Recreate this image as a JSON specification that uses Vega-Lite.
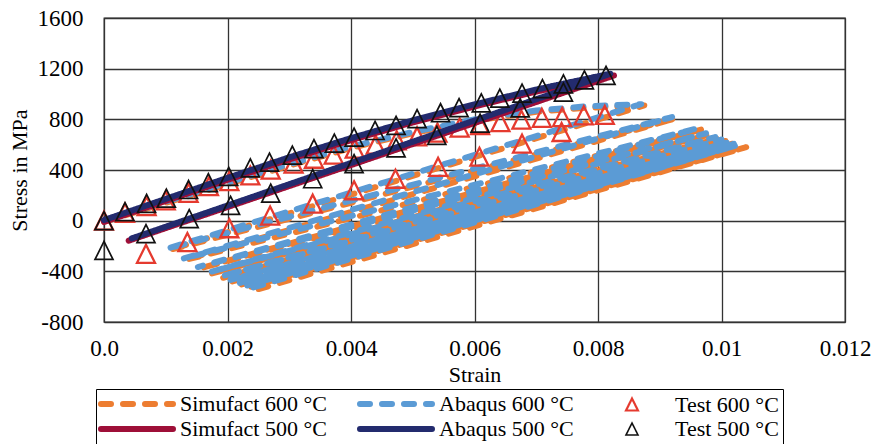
{
  "$schema": "https://vega.github.io/schema/vega-lite/v6.json",
  "width": 741,
  "height": 304,
  "autosize": "none",
  "padding": {"left": 104, "top": 18, "right": 27, "bottom": 122},
  "background": "white",
  "config": {
    "view": {"stroke": "#333", "strokeWidth": 1.3},
    "font": "Liberation Serif, Times New Roman, DejaVu Serif, serif",
    "axis": {
      "labelFont": "Liberation Serif, Times New Roman, DejaVu Serif, serif", "titleFont": "Liberation Serif, Times New Roman, DejaVu Serif, serif",
      "labelFontSize": 23, "titleFontSize": 22, "titleFontWeight": "normal",
      "labelColor": "#000", "titleColor": "#000",
      "gridColor": "#333", "gridWidth": 1.3, "gridOpacity": 1,
      "ticks": false, "domain": false
    }
  },
  "datasets": {
    "sf600": [
      {"series": "Simufact 600 °C", "i": 0, "strain": 0, "stress": -8},
      {"series": "Simufact 600 °C", "i": 1, "strain": 0.001, "stress": 140},
      {"series": "Simufact 600 °C", "i": 2, "strain": 0.002, "stress": 289},
      {"series": "Simufact 600 °C", "i": 3, "strain": 0.003, "stress": 434},
      {"series": "Simufact 600 °C", "i": 4, "strain": 0.004, "stress": 574},
      {"series": "Simufact 600 °C", "i": 5, "strain": 0.005, "stress": 690},
      {"series": "Simufact 600 °C", "i": 6, "strain": 0.006, "stress": 789},
      {"series": "Simufact 600 °C", "i": 7, "strain": 0.007, "stress": 859},
      {"series": "Simufact 600 °C", "i": 8, "strain": 0.0078, "stress": 891},
      {"series": "Simufact 600 °C", "i": 9, "strain": 0.00875, "stress": 910},
      {"series": "Simufact 600 °C", "i": 10, "strain": 0.00105, "stress": -232},
      {"series": "Simufact 600 °C", "i": 11, "strain": 0.00925, "stress": 807},
      {"series": "Simufact 600 °C", "i": 12, "strain": 0.00131, "stress": -311},
      {"series": "Simufact 600 °C", "i": 13, "strain": 0.00967, "stress": 719},
      {"series": "Simufact 600 °C", "i": 14, "strain": 0.00155, "stress": -377},
      {"series": "Simufact 600 °C", "i": 15, "strain": 0.0098, "stress": 680},
      {"series": "Simufact 600 °C", "i": 16, "strain": 0.00175, "stress": -416},
      {"series": "Simufact 600 °C", "i": 17, "strain": 0.00996, "stress": 650},
      {"series": "Simufact 600 °C", "i": 18, "strain": 0.00193, "stress": -451},
      {"series": "Simufact 600 °C", "i": 19, "strain": 0.01007, "stress": 630},
      {"series": "Simufact 600 °C", "i": 20, "strain": 0.00208, "stress": -479},
      {"series": "Simufact 600 °C", "i": 21, "strain": 0.0102, "stress": 610},
      {"series": "Simufact 600 °C", "i": 22, "strain": 0.00223, "stress": -503},
      {"series": "Simufact 600 °C", "i": 23, "strain": 0.0103, "stress": 595},
      {"series": "Simufact 600 °C", "i": 24, "strain": 0.00236, "stress": -524},
      {"series": "Simufact 600 °C", "i": 25, "strain": 0.0104, "stress": 580},
      {"series": "Simufact 600 °C", "i": 26, "strain": 0.00246, "stress": -546}
    ],
    "ab600": [
      {"series": "Abaqus 600 °C", "i": 0, "strain": 0, "stress": 0},
      {"series": "Abaqus 600 °C", "i": 1, "strain": 0.001, "stress": 150},
      {"series": "Abaqus 600 °C", "i": 2, "strain": 0.002, "stress": 300},
      {"series": "Abaqus 600 °C", "i": 3, "strain": 0.003, "stress": 445},
      {"series": "Abaqus 600 °C", "i": 4, "strain": 0.004, "stress": 585},
      {"series": "Abaqus 600 °C", "i": 5, "strain": 0.005, "stress": 700},
      {"series": "Abaqus 600 °C", "i": 6, "strain": 0.006, "stress": 800},
      {"series": "Abaqus 600 °C", "i": 7, "strain": 0.007, "stress": 870},
      {"series": "Abaqus 600 °C", "i": 8, "strain": 0.0078, "stress": 902},
      {"series": "Abaqus 600 °C", "i": 9, "strain": 0.0087, "stress": 920},
      {"series": "Abaqus 600 °C", "i": 10, "strain": 0.00102, "stress": -221},
      {"series": "Abaqus 600 °C", "i": 11, "strain": 0.0092, "stress": 818},
      {"series": "Abaqus 600 °C", "i": 12, "strain": 0.00128, "stress": -300},
      {"series": "Abaqus 600 °C", "i": 13, "strain": 0.00962, "stress": 730},
      {"series": "Abaqus 600 °C", "i": 14, "strain": 0.00152, "stress": -366},
      {"series": "Abaqus 600 °C", "i": 15, "strain": 0.00975, "stress": 690},
      {"series": "Abaqus 600 °C", "i": 16, "strain": 0.00172, "stress": -405},
      {"series": "Abaqus 600 °C", "i": 17, "strain": 0.0099, "stress": 660},
      {"series": "Abaqus 600 °C", "i": 18, "strain": 0.0019, "stress": -440},
      {"series": "Abaqus 600 °C", "i": 19, "strain": 0.01, "stress": 640},
      {"series": "Abaqus 600 °C", "i": 20, "strain": 0.00205, "stress": -468},
      {"series": "Abaqus 600 °C", "i": 21, "strain": 0.01012, "stress": 620},
      {"series": "Abaqus 600 °C", "i": 22, "strain": 0.0022, "stress": -492},
      {"series": "Abaqus 600 °C", "i": 23, "strain": 0.0102, "stress": 606},
      {"series": "Abaqus 600 °C", "i": 24, "strain": 0.00232, "stress": -512},
      {"series": "Abaqus 600 °C", "i": 25, "strain": 0.01025, "stress": 595},
      {"series": "Abaqus 600 °C", "i": 26, "strain": 0.0024, "stress": -530}
    ],
    "sf500": [
      {"series": "Simufact 500 °C", "i": 0, "strain": 0, "stress": -10},
      {"series": "Simufact 500 °C", "i": 1, "strain": 0.001, "stress": 156},
      {"series": "Simufact 500 °C", "i": 2, "strain": 0.002, "stress": 322},
      {"series": "Simufact 500 °C", "i": 3, "strain": 0.003, "stress": 484},
      {"series": "Simufact 500 °C", "i": 4, "strain": 0.004, "stress": 636},
      {"series": "Simufact 500 °C", "i": 5, "strain": 0.005, "stress": 776},
      {"series": "Simufact 500 °C", "i": 6, "strain": 0.006, "stress": 902},
      {"series": "Simufact 500 °C", "i": 7, "strain": 0.007, "stress": 1019},
      {"series": "Simufact 500 °C", "i": 8, "strain": 0.00826, "stress": 1146},
      {"series": "Simufact 500 °C", "i": 9, "strain": 0.0004, "stress": -158}
    ],
    "ab500": [
      {"series": "Abaqus 500 °C", "i": 0, "strain": 0, "stress": 5},
      {"series": "Abaqus 500 °C", "i": 1, "strain": 0.001, "stress": 172},
      {"series": "Abaqus 500 °C", "i": 2, "strain": 0.002, "stress": 338},
      {"series": "Abaqus 500 °C", "i": 3, "strain": 0.003, "stress": 500},
      {"series": "Abaqus 500 °C", "i": 4, "strain": 0.004, "stress": 652},
      {"series": "Abaqus 500 °C", "i": 5, "strain": 0.005, "stress": 792},
      {"series": "Abaqus 500 °C", "i": 6, "strain": 0.006, "stress": 918},
      {"series": "Abaqus 500 °C", "i": 7, "strain": 0.007, "stress": 1035},
      {"series": "Abaqus 500 °C", "i": 8, "strain": 0.0082, "stress": 1160},
      {"series": "Abaqus 500 °C", "i": 9, "strain": 0.00045, "stress": -140}
    ],
    "t600": [
      {"series": "Test 600 °C", "strain": 0, "stress": 0},
      {"series": "Test 600 °C", "strain": 0.00034, "stress": 62},
      {"series": "Test 600 °C", "strain": 0.00069, "stress": 115},
      {"series": "Test 600 °C", "strain": 0.001, "stress": 160},
      {"series": "Test 600 °C", "strain": 0.00137, "stress": 220},
      {"series": "Test 600 °C", "strain": 0.0017, "stress": 272},
      {"series": "Test 600 °C", "strain": 0.00203, "stress": 312},
      {"series": "Test 600 °C", "strain": 0.00237, "stress": 357},
      {"series": "Test 600 °C", "strain": 0.0027, "stress": 403},
      {"series": "Test 600 °C", "strain": 0.00307, "stress": 450},
      {"series": "Test 600 °C", "strain": 0.0034, "stress": 489},
      {"series": "Test 600 °C", "strain": 0.00372, "stress": 522},
      {"series": "Test 600 °C", "strain": 0.00406, "stress": 568},
      {"series": "Test 600 °C", "strain": 0.0044, "stress": 600},
      {"series": "Test 600 °C", "strain": 0.00474, "stress": 635},
      {"series": "Test 600 °C", "strain": 0.00507, "stress": 665},
      {"series": "Test 600 °C", "strain": 0.0054, "stress": 695},
      {"series": "Test 600 °C", "strain": 0.00576, "stress": 735},
      {"series": "Test 600 °C", "strain": 0.00609, "stress": 755},
      {"series": "Test 600 °C", "strain": 0.00642, "stress": 778},
      {"series": "Test 600 °C", "strain": 0.00676, "stress": 797},
      {"series": "Test 600 °C", "strain": 0.00709, "stress": 812},
      {"series": "Test 600 °C", "strain": 0.00742, "stress": 818},
      {"series": "Test 600 °C", "strain": 0.00777, "stress": 832},
      {"series": "Test 600 °C", "strain": 0.00811, "stress": 835},
      {"series": "Test 600 °C", "strain": 0.00068, "stress": -262},
      {"series": "Test 600 °C", "strain": 0.00135, "stress": -169},
      {"series": "Test 600 °C", "strain": 0.00203, "stress": -60},
      {"series": "Test 600 °C", "strain": 0.00269, "stress": 40},
      {"series": "Test 600 °C", "strain": 0.00338, "stress": 134},
      {"series": "Test 600 °C", "strain": 0.00405, "stress": 240},
      {"series": "Test 600 °C", "strain": 0.00472, "stress": 331},
      {"series": "Test 600 °C", "strain": 0.00541, "stress": 425},
      {"series": "Test 600 °C", "strain": 0.00608, "stress": 505},
      {"series": "Test 600 °C", "strain": 0.00677, "stress": 608},
      {"series": "Test 600 °C", "strain": 0.00741, "stress": 700}
    ],
    "t500": [
      {"series": "Test 500 °C", "strain": 0, "stress": 0},
      {"series": "Test 500 °C", "strain": 0.00034, "stress": 72},
      {"series": "Test 500 °C", "strain": 0.00069, "stress": 136},
      {"series": "Test 500 °C", "strain": 0.00101, "stress": 178},
      {"series": "Test 500 °C", "strain": 0.00137, "stress": 246},
      {"series": "Test 500 °C", "strain": 0.00169, "stress": 301},
      {"series": "Test 500 °C", "strain": 0.00202, "stress": 350},
      {"series": "Test 500 °C", "strain": 0.00237, "stress": 416},
      {"series": "Test 500 °C", "strain": 0.00268, "stress": 462},
      {"series": "Test 500 °C", "strain": 0.00305, "stress": 518},
      {"series": "Test 500 °C", "strain": 0.0034, "stress": 568},
      {"series": "Test 500 °C", "strain": 0.00373, "stress": 612},
      {"series": "Test 500 °C", "strain": 0.00405, "stress": 660},
      {"series": "Test 500 °C", "strain": 0.00439, "stress": 712},
      {"series": "Test 500 °C", "strain": 0.00473, "stress": 752},
      {"series": "Test 500 °C", "strain": 0.00507, "stress": 805},
      {"series": "Test 500 °C", "strain": 0.00545, "stress": 852},
      {"series": "Test 500 °C", "strain": 0.00575, "stress": 892},
      {"series": "Test 500 °C", "strain": 0.00611, "stress": 930},
      {"series": "Test 500 °C", "strain": 0.00641, "stress": 968},
      {"series": "Test 500 °C", "strain": 0.00677, "stress": 1007},
      {"series": "Test 500 °C", "strain": 0.0071, "stress": 1042},
      {"series": "Test 500 °C", "strain": 0.00744, "stress": 1080},
      {"series": "Test 500 °C", "strain": 0.00778, "stress": 1112},
      {"series": "Test 500 °C", "strain": 0.00813, "stress": 1147},
      {"series": "Test 500 °C", "strain": 0, "stress": -235},
      {"series": "Test 500 °C", "strain": 0.00068, "stress": -103},
      {"series": "Test 500 °C", "strain": 0.00138, "stress": 16},
      {"series": "Test 500 °C", "strain": 0.00205, "stress": 121},
      {"series": "Test 500 °C", "strain": 0.0027, "stress": 218},
      {"series": "Test 500 °C", "strain": 0.00338, "stress": 331},
      {"series": "Test 500 °C", "strain": 0.00405, "stress": 450},
      {"series": "Test 500 °C", "strain": 0.00473, "stress": 575},
      {"series": "Test 500 °C", "strain": 0.00539, "stress": 673},
      {"series": "Test 500 °C", "strain": 0.00609, "stress": 770},
      {"series": "Test 500 °C", "strain": 0.00674, "stress": 890},
      {"series": "Test 500 °C", "strain": 0.00744, "stress": 1015}
    ]
  },
  "encoding": {
    "x": {
      "field": "strain", "type": "quantitative",
      "scale": {"domain": [0, 0.012], "nice": false, "zero": false},
      "axis": {
        "values": [0, 0.002, 0.004, 0.006, 0.008, 0.01, 0.012],
        "labelExpr": "datum.value == 0 ? '0.0' : format(datum.value, '~g')",
        "labelPadding": 15, "labelFlush": false,
        "title": "Strain", "titlePadding": 4
      }
    },
    "y": {
      "field": "stress", "type": "quantitative",
      "scale": {"domain": [-800, 1600], "nice": false, "zero": false},
      "axis": {
        "values": [-800, -400, 0, 400, 800, 1200, 1600],
        "labelExpr": "'' + datum.value", "labelPadding": 21,
        "title": "Stress in MPa", "titlePadding": 6
      }
    },
    "color": {
      "field": "series", "type": "nominal",
      "scale": {
        "domain": ["Simufact 600 °C", "Abaqus 600 °C", "Test 600 °C", "Simufact 500 °C", "Abaqus 500 °C", "Test 500 °C"],
        "range": ["#ED7D31", "#5B9BD5", "#E53A2F", "#9E0F38", "#232B6E", "#111111"]
      },
      "legend": {
        "title": null, "orient": "none", "legendX": -8, "legendY": 371,
        "direction": "horizontal", "columns": 3, "gridAlign": "each",
        "symbolSize": 400, "rowPadding": 1, "columnPadding": 21,
        "labelOffset": 58, "padding": 4, "strokeColor": "#000",
        "labelFont": "Liberation Serif, Times New Roman, DejaVu Serif, serif", "labelFontSize": 22, "labelColor": "#000", "labelLimit": 400,
        "symbolStrokeWidth": 1,
        "encode": {
          "symbols": {
            "update": {
              "strokeWidth": {"signal": "datum.value == 'Test 600 °C' ? 2.2 : (datum.value == 'Test 500 °C' ? 1.6 : 6)"},
              "fill": {"value": "transparent"},
              "strokeCap": {"value": "round"},
              "opacity": {"value": 1}
            }
          }
        }
      }
    }
  },
  "layer": [
    {
      "data": {"name": "sf600"},
      "mark": {"type": "line", "strokeWidth": 6, "strokeCap": "round", "strokeJoin": "round"},
      "encoding": {
        "order": {"field": "i", "type": "quantitative"},
        "strokeDash": {"field": "series", "type": "nominal", "scale": {
          "domain": ["Simufact 600 °C", "Abaqus 600 °C", "Test 600 °C", "Simufact 500 °C", "Abaqus 500 °C", "Test 500 °C"],
          "range": [[10, 12], [10, 12], [1, 0], [1, 0], [1, 0], [1, 0]]}}
      }
    },
    {
      "data": {"name": "ab600"},
      "mark": {"type": "line", "strokeWidth": 6, "strokeCap": "round", "strokeJoin": "round"},
      "encoding": {
        "order": {"field": "i", "type": "quantitative"},
        "strokeDash": {"field": "series", "type": "nominal", "scale": {
          "domain": ["Simufact 600 °C", "Abaqus 600 °C", "Test 600 °C", "Simufact 500 °C", "Abaqus 500 °C", "Test 500 °C"],
          "range": [[10, 12], [10, 12], [1, 0], [1, 0], [1, 0], [1, 0]]}}
      }
    },
    {
      "data": {"name": "t600"},
      "mark": {"type": "point", "filled": false, "size": 900, "xOffset": -39, "strokeWidth": 2.3, "opacity": 1},
      "encoding": {
        "shape": {"field": "series", "type": "nominal", "scale": {
          "domain": ["Simufact 600 °C", "Abaqus 600 °C", "Test 600 °C", "Simufact 500 °C", "Abaqus 500 °C", "Test 500 °C"],
          "range": ["M-1,0L6.2,0", "M-1,0L6.2,0", "M2.6,-0.6L3.2,0.6L2,0.6Z", "M-1,0L6.2,0", "M-1,0L6.2,0", "M2.6,-0.6L3.2,0.6L2,0.6Z"]}}
      }
    },
    {
      "data": {"name": "sf500"},
      "mark": {"type": "line", "strokeWidth": 6, "strokeCap": "round", "strokeJoin": "round"},
      "encoding": {
        "order": {"field": "i", "type": "quantitative"},
        "strokeDash": {"field": "series", "type": "nominal", "scale": {
          "domain": ["Simufact 600 °C", "Abaqus 600 °C", "Test 600 °C", "Simufact 500 °C", "Abaqus 500 °C", "Test 500 °C"],
          "range": [[10, 12], [10, 12], [1, 0], [1, 0], [1, 0], [1, 0]]}}
      }
    },
    {
      "data": {"name": "ab500"},
      "mark": {"type": "line", "strokeWidth": 6, "strokeCap": "round", "strokeJoin": "round"},
      "encoding": {
        "order": {"field": "i", "type": "quantitative"},
        "strokeDash": {"field": "series", "type": "nominal", "scale": {
          "domain": ["Simufact 600 °C", "Abaqus 600 °C", "Test 600 °C", "Simufact 500 °C", "Abaqus 500 °C", "Test 500 °C"],
          "range": [[10, 12], [10, 12], [1, 0], [1, 0], [1, 0], [1, 0]]}}
      }
    },
    {
      "data": {"name": "t500"},
      "mark": {"type": "point", "filled": false, "size": 900, "xOffset": -39, "strokeWidth": 1.7, "opacity": 1},
      "encoding": {
        "shape": {"field": "series", "type": "nominal", "scale": {
          "domain": ["Simufact 600 °C", "Abaqus 600 °C", "Test 600 °C", "Simufact 500 °C", "Abaqus 500 °C", "Test 500 °C"],
          "range": ["M-1,0L6.2,0", "M-1,0L6.2,0", "M2.6,-0.6L3.2,0.6L2,0.6Z", "M-1,0L6.2,0", "M-1,0L6.2,0", "M2.6,-0.6L3.2,0.6L2,0.6Z"]}}
      }
    }
  ]
}
